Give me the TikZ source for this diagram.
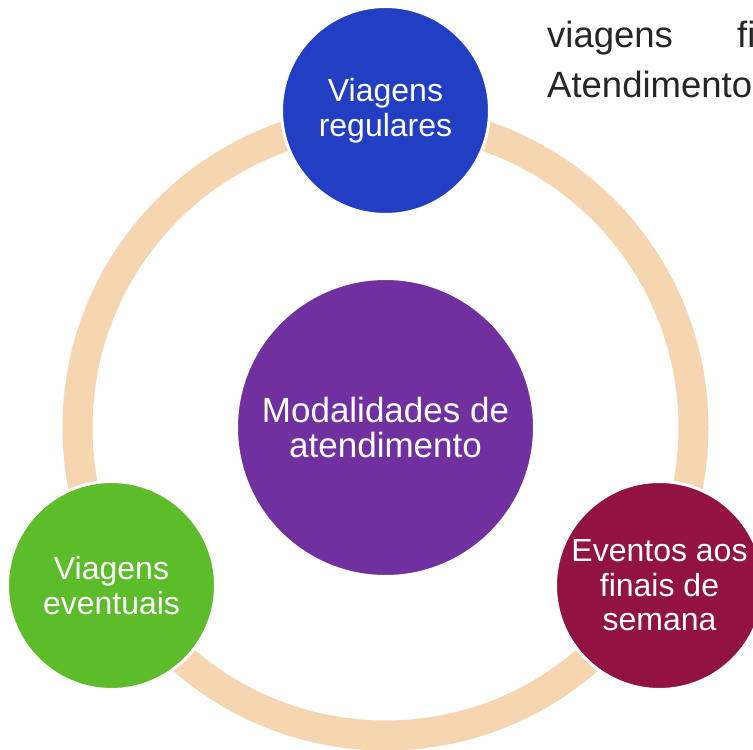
\documentclass[tikz,border=0pt]{standalone}
\usepackage{fontspec}
\setmainfont{Liberation Sans}
\definecolor{ringc}{HTML}{F5D6B1}
\definecolor{bluec}{HTML}{223FC3}
\definecolor{purplec}{HTML}{7030A0}
\definecolor{greenc}{HTML}{5DBC2A}
\definecolor{maroonc}{HTML}{921241}
\definecolor{bodytext}{HTML}{262626}
\tikzset{
  bubble/.style={circle, inner sep=0pt, minimum size=208pt, draw=white, line width=3pt,
    text=white, align=center, font=\fontsize{32}{34.5}\selectfont},
  hub/.style={bubble, minimum size=298pt, font=\fontsize{35}{35}\selectfont},
  ringline/.style={draw=ringc, line width=30pt},
  bodyline/.style={anchor=base west, inner sep=0pt, text=bodytext, font=\fontsize{36.5}{50}\selectfont}
}
\begin{document}
\begin{tikzpicture}[x=1pt,y=1pt]
\clip (0,0) rectangle (753,750);
\fill[white] (0,0) rectangle (753,750);
\coordinate (ctr) at (385.5,322.5);
\draw[ringline] (ctr) circle (308);
\node[hub, fill=purplec] (hubnode) at (ctr) {Modalidades de\\atendimento};
\node[bubble, fill=bluec] (reg) at (385.5,639.5) {Viagens\\regulares};
\node[bubble, fill=greenc] (evt) at (111.5,164.5) {Viagens\\eventuais};
\node[bubble, fill=maroonc] (fds) at (659.5,164.5) {Eventos aos\\finais de\\semana};
\node[bodyline] (l1a) at (547,702.5) {viagens};
\node[bodyline] (l1b) at (737,702.5) {fi};
\node[bodyline] (l2) at (547,652.7) {Atendimento};
\end{tikzpicture}
\end{document}
